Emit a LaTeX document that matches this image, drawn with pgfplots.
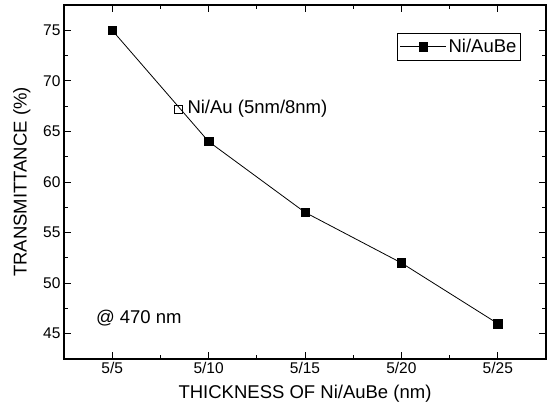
\documentclass[border=0pt]{standalone}
\usepackage{pgfplots}
\pgfplotsset{compat=1.18}
\usepackage{fontspec}
\setmainfont{Liberation Sans}

\begin{document}
\begin{tikzpicture}
\begin{axis}[
  name=main,
  scale only axis, width=482pt, height=354pt,
  xmin=-0.5, xmax=4.5, ymin=42.5, ymax=77.5,
  xtick={0,1,2,3,4}, xticklabels={5/5,5/10,5/15,5/20,5/25},
  ytick={45,50,...,75},
  minor x tick num=1, minor y tick num=1,
  major tick length=7pt, minor tick length=4pt,
  every tick/.style={black, line width=0.9pt},
  axis line style={line width=1.5pt},
  /pgf/number format/assume math mode=true,
  tick label style={font=\fontsize{15.5}{18}\selectfont},
  label style={font=\fontsize{18.5}{22}\selectfont},
  xlabel={THICKNESS OF Ni/AuBe (nm)},
  ylabel={TRANSMITTANCE (\%)},
  xlabel style={yshift=-4pt},
  ylabel style={yshift=6pt},
  legend style={at={(0.948,0.921)}, anchor=north east, draw=black, line width=0.9pt,
    font=\fontsize{18.5}{22}\selectfont, inner xsep=2pt, inner ysep=4pt, row sep=0pt},
  legend image code/.code={\draw[mark repeat=2, mark phase=2] plot coordinates {(0pt,0pt) (23pt,0pt) (46pt,0pt)};},
]
\addplot[black, line width=0.8pt, mark=square*, mark size=4.2pt, mark options={solid, line width=0.5pt}]
  coordinates {(0,75) (1,64) (2,57) (3,52) (4,46)};
\addlegendentry{Ni/AuBe}
\addplot[black, only marks, mark=square, mark size=4pt, mark options={line width=0.8pt}, forget plot]
  coordinates {(0.686,67.2)} node[anchor=west, xshift=9pt, inner sep=0pt, font=\fontsize{18.5}{22}\selectfont] {Ni/Au (5nm/8nm)};
\node[anchor=west, inner sep=0pt, font=\fontsize{18.5}{22}\selectfont] at (axis cs:-0.17,46.5) {@ 470 nm};
\end{axis}
\pgfresetboundingbox
\path ([shift={(-64pt,-53pt)}]main.south west) rectangle ([shift={(3pt,5pt)}]main.north east);
\end{tikzpicture}
\end{document}
